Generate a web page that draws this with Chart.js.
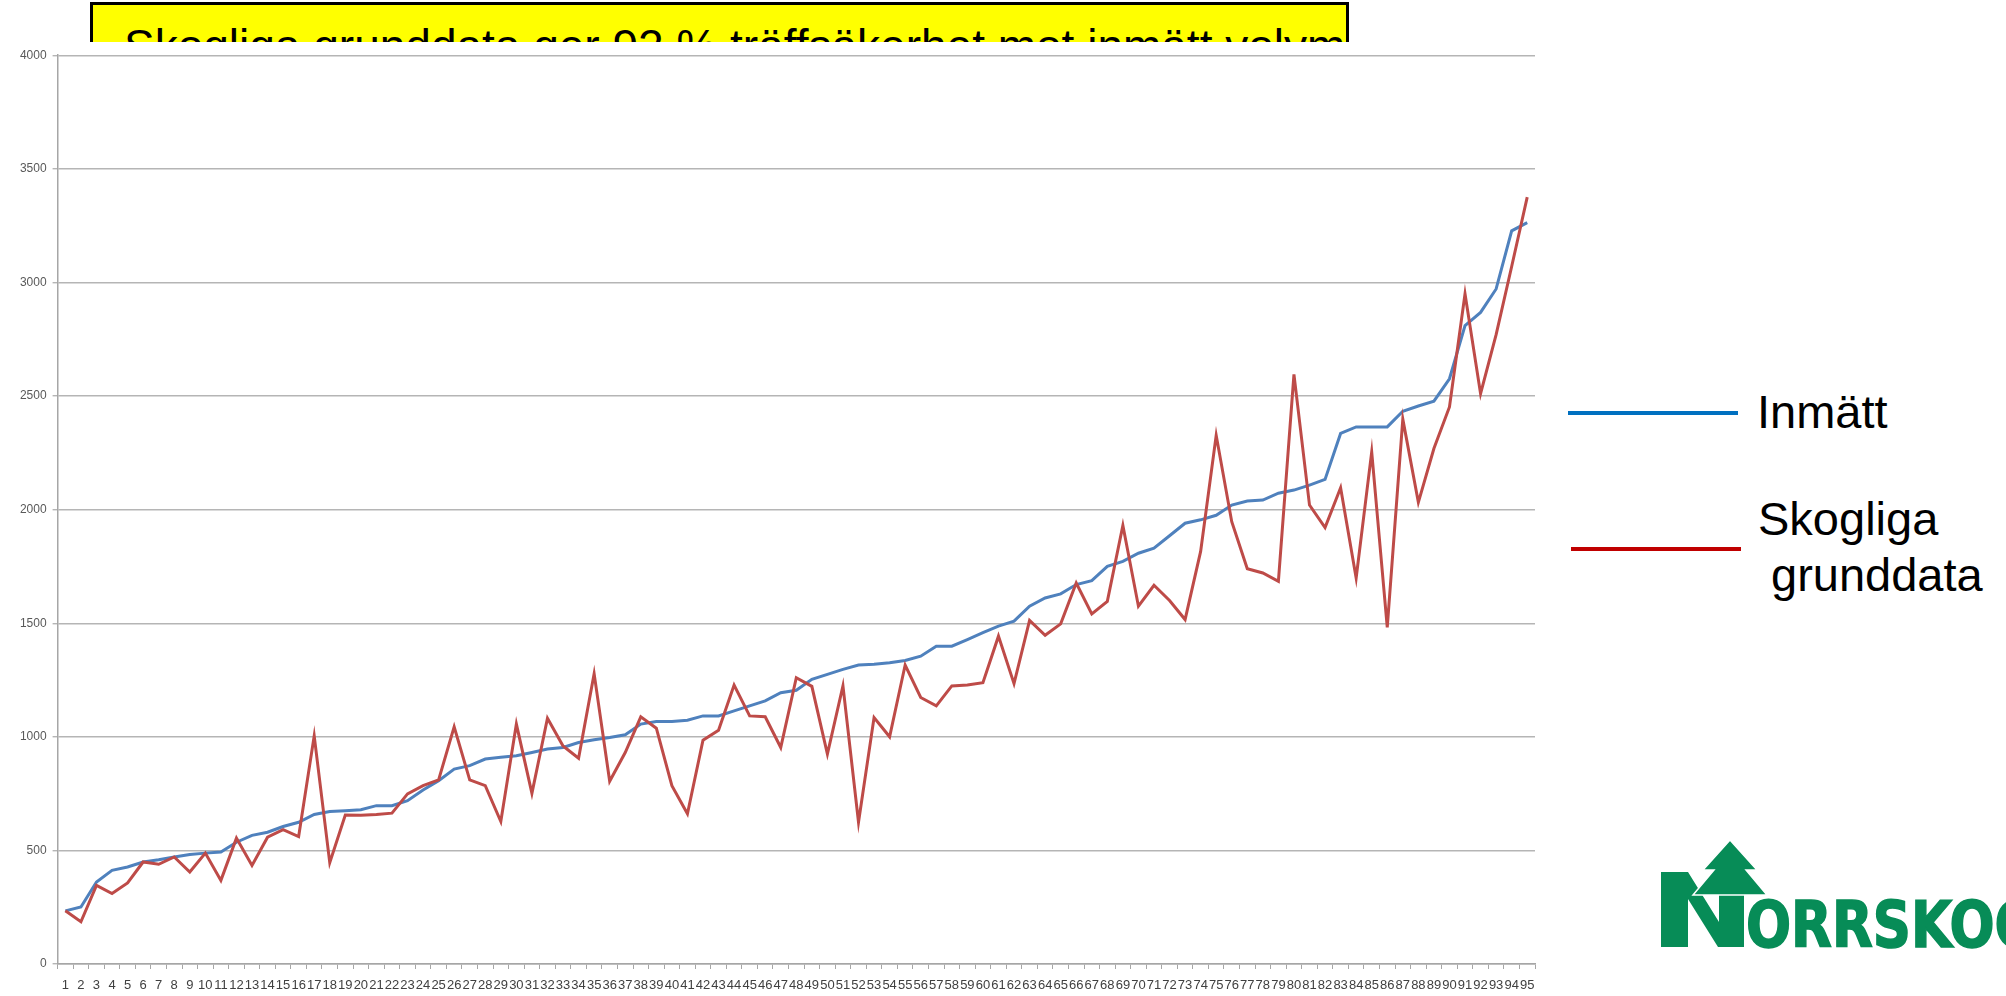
<!DOCTYPE html>
<html>
<head>
<meta charset="utf-8">
<script src="https://cdn.jsdelivr.net/npm/chart.js@4/dist/chart.umd.min.js"></script>
<style>
  html, body { margin:0; padding:0; width:2006px; height:996px; overflow:hidden; background:#fff; }
  body { position:relative; font-family:"Liberation Sans", Arial, sans-serif; }
  #titlebox { position:absolute; left:90px; top:2px; width:1253px; height:70px; background:#FFFF00; border:3px solid #000; overflow:hidden; }
  #titletext { position:absolute; left:31px; top:18px; font-size:46px; line-height:46px; color:#000; white-space:nowrap; }
  #chartwrap { position:absolute; left:0; top:42px; width:1560px; height:954px; background:#fff; z-index:2; }
  .legline { position:absolute; z-index:3; }
  .legtext { position:absolute; z-index:3; font-size:47px; line-height:47px; color:#000; white-space:nowrap; }
  #logo { position:absolute; left:0; top:0; z-index:4; }
</style>
</head>
<body>
<div id="titlebox"><div id="titletext">Skogliga grunddata ger 92 % träffsäkerhet mot inmätt volym</div></div>
<div id="chartwrap"><canvas id="c"></canvas></div>

<div class="legline" style="left:1568px; top:411px; width:170px; height:4px; background:#0070C0;"></div>
<div class="legtext" style="left:1757px; top:388px;">Inmätt</div>
<div class="legline" style="left:1571px; top:547px; width:170px; height:4px; background:#C00000;"></div>
<div class="legtext" style="left:1758px; top:495px;">Skogliga</div>
<div class="legtext" style="left:1771px; top:551px;">grunddata</div>

<svg id="logo" width="2006" height="996" viewBox="0 0 2006 996">
  <polygon fill="#078C57" points="1661,872 1688,872 1719,922 1719,894 1744,894 1744,947 1718,947 1688,899 1688,947 1661,947"/>
  <polygon fill="#078C57" stroke="#fff" stroke-width="1.5" points="1730,840 1757,870 1746,870 1767,895 1693,895 1714,870 1703,870"/>
  <text x="1746" y="947" fill="#078C57" stroke="#078C57" stroke-width="1.5" font-family="'Liberation Sans Narrow','DejaVu Sans Condensed','Liberation Sans',sans-serif" font-weight="bold" font-size="64" textLength="292" lengthAdjust="spacingAndGlyphs">ORRSKOG</text>
</svg>

<script>
const categories = ['1','2','3','4','5','6','7','8','9','10','11','12','13','14','15','16','17','18','19','20',
  '21','22','23','24','25','26','27','28','29','30','31','32','33','34','35','36','37','38','39','40',
  '41','42','43','44','45','46','47','48','49','50','51','52','53','54','55','56','57','58','59','60',
  '61','62','63','64','65','66','67','68','69','70','71','72','73','74','75','76','77','78','79','80',
  '81','82','83','84','85','86','87','88','89','90','91','92','93','94','95'];

const inmatt = [234,251,361,412,427,449,459,471,482,488,493,536,566,580,605,624,658,671,675,679,
  697,697,719,766,807,858,873,902,910,917,931,946,953,975,987,997,1009,1056,1067,1067,
  1073,1092,1092,1114,1136,1158,1194,1205,1253,1275,1297,1316,1319,1326,1336,1355,1399,1399,1428,1458,
  1487,1509,1575,1611,1629,1670,1687,1750,1772,1808,1830,1885,1940,1955,1975,2020,2038,2042,2072,2086,
  2108,2133,2335,2364,2364,2364,2433,2456,2477,2576,2810,2868,2971,3227,3263];

const skogliga = [234,186,346,310,357,449,439,471,405,488,368,554,434,558,591,561,1004,446,656,655,
  658,664,749,785,810,1044,810,785,627,1056,751,1082,960,906,1278,804,931,1088,1038,785,
  661,985,1029,1228,1092,1088,953,1260,1222,924,1224,624,1085,1000,1316,1173,1136,1224,1228,1238,
  1443,1234,1512,1447,1497,1677,1541,1596,1930,1575,1667,1600,1516,1816,2327,1947,1740,1721,1684,2595,
  2020,1921,2096,1699,2254,1482,2398,2032,2269,2452,2950,2510,2770,3070,3375];

const yMin = 0, yMax = 4000, yStep = 500;

new Chart(document.getElementById('c'), {
  type: 'line',
  data: {
    labels: categories,
    datasets: [
      { label: 'Inmätt', data: inmatt, borderColor: '#4F81BD', borderWidth: 3, pointRadius: 0, tension: 0, order: 1 },
      { label: 'Skogliga grunddata', data: skogliga, borderColor: '#BE4B48', borderWidth: 3, pointRadius: 0, tension: 0, order: 0 }
    ]
  },
  options: {
    responsive: true,
    maintainAspectRatio: false,
    animation: false,
    devicePixelRatio: 1,
    layout: { padding: { left: 0, right: 25, top: 10, bottom: 0 } },
    plugins: { legend: { display: false }, tooltip: { enabled: false } },
    scales: {
      x: {
        offset: true,
        grid: { display: true, drawOnChartArea: false, drawTicks: true, tickLength: 5, offset: true, color: '#a6a6a6', lineWidth: 1 },
        border: { display: true, color: '#a6a6a6', width: 1.5 },
        ticks: { autoSkip: false, maxRotation: 0, minRotation: 0, padding: 9, color: '#404040',
                 font: { family: "'Liberation Sans', Arial, sans-serif", size: 13 } },
        afterFit: (s) => { s.height = 32; }
      },
      y: {
        min: yMin, max: yMax,
        grid: { color: '#b5b5b5', lineWidth: 1.4, drawTicks: true, tickLength: 5 },
        border: { display: true, color: '#a6a6a6', width: 1.5 },
        ticks: { stepSize: yStep, padding: 6, color: '#595959',
                 callback: (v) => String(v),
                 font: { family: "'Liberation Sans', Arial, sans-serif", size: 12 } },
        afterFit: (s) => { s.width = 57.6; }
      }
    }
  }
});
</script>
</body>
</html>
